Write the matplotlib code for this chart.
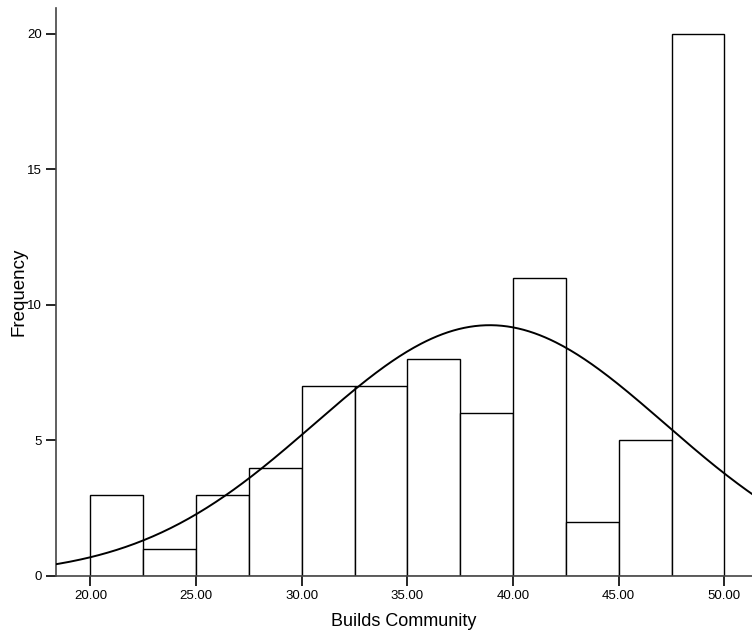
import numpy as np
import matplotlib
matplotlib.use("Agg")
import matplotlib.pyplot as plt

# histogram bins (width 2.5) and counts
bin_edges = [20.0, 22.5, 25.0, 27.5, 30.0, 32.5, 35.0, 37.5, 40.0, 42.5, 45.0, 47.5, 50.0]
counts = [3, 1, 3, 4, 7, 7, 8, 6, 11, 2, 5, 20]
xticks = [20, 25, 30, 35, 40, 45, 50]
xtick_labels = ["20.00", "25.00", "30.00", "35.00", "40.00", "45.00", "50.00"]
yticks = [0, 5, 10, 15, 20]

# normal curve parameters
mean = 38.9
sd = 8.3

plt.rcParams['font.family'] = ['Liberation Sans', 'DejaVu Sans']

fig = plt.figure(figsize=(7.52, 6.37), dpi=100)
ax = fig.add_axes([0.0745, 0.0958, 0.9255, 0.891])

widths = np.diff(bin_edges)
ax.bar(bin_edges[:-1], counts, width=widths, align='edge',
       facecolor='white', edgecolor='black', linewidth=1.0, zorder=2)

n = sum(counts)
bw = widths[0]
xs = np.linspace(18.0, 52.0, 400)
ys = n * bw / (sd * np.sqrt(2 * np.pi)) * np.exp(-0.5 * ((xs - mean) / sd) ** 2)
ax.plot(xs, ys, color='black', linewidth=1.4, zorder=3)

ax.set_xlim(18.37, 51.31)
ax.set_ylim(0, 20.94)
ax.set_xticks(xticks)
ax.set_xticklabels(xtick_labels)
ax.set_yticks(yticks)

for s in ['top', 'right']:
    ax.spines[s].set_visible(False)
for s in ['left', 'bottom']:
    ax.spines[s].set_color('#444444')
    ax.spines[s].set_linewidth(1.2)
ax.tick_params(axis='both', direction='out', length=7, width=1.2,
               color='black', labelsize=9.5, pad=3)

ax.set_xlabel('Builds Community', fontsize=13, labelpad=8)
ax.set_ylabel('Frequency', fontsize=13.5, labelpad=0)

fig.savefig('out.png', dpi=100)
